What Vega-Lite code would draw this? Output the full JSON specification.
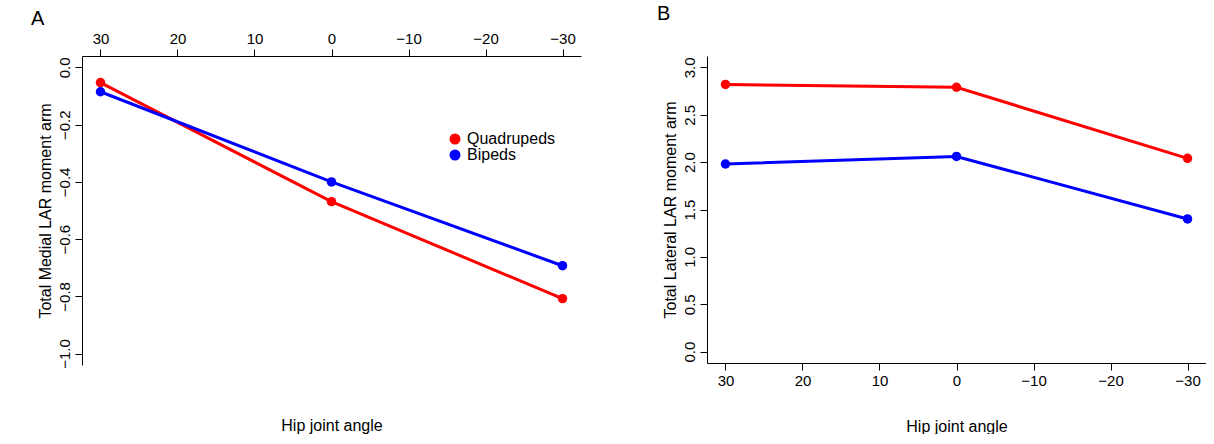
{
  "$schema": "https://vega.github.io/schema/vega-lite/v6.json",
  "padding": {"left": 30, "top": 4, "right": 0, "bottom": 0},
  "datasets": {
    "medial": [
      {"group": "Quadrupeds", "angle": 30, "value": -0.053},
      {"group": "Quadrupeds", "angle": 0, "value": -0.469},
      {"group": "Quadrupeds", "angle": -30, "value": -0.808},
      {"group": "Bipeds", "angle": 30, "value": -0.085},
      {"group": "Bipeds", "angle": 0, "value": -0.4},
      {"group": "Bipeds", "angle": -30, "value": -0.693}
    ],
    "lateral": [
      {"group": "Quadrupeds", "angle": 30, "value": 2.82},
      {"group": "Quadrupeds", "angle": 0, "value": 2.79},
      {"group": "Quadrupeds", "angle": -30, "value": 2.04},
      {"group": "Bipeds", "angle": 30, "value": 1.98},
      {"group": "Bipeds", "angle": 0, "value": 2.06},
      {"group": "Bipeds", "angle": -30, "value": 1.4}
    ]
  },
  "config": {
    "font": "Liberation Sans",
    "view": {"stroke": null},
    "axis": {"grid": false, "labelFontSize": 15, "titleFontSize": 16, "titleFontWeight": "normal", "labelColor": "black", "titleColor": "black", "domainColor": "black", "tickColor": "black", "tickSize": 7, "labelPadding": 3},
    "legend": {"labelFontSize": 16, "symbolType": "circle", "symbolSize": 90, "rowPadding": 0, "labelLimit": 300},
    "title": {"fontSize": 20, "fontWeight": "normal", "anchor": "start", "frame": "bounds"}
  },
  "hconcat": [
    {
      "width": 499, "height": 309,
      "title": {"text": "A", "dx": -6, "offset": -22, "dy": -24},
      "data": {"name": "medial"},
      "resolve": {"axis": {"x": "independent"}},
      "layer": [
        {
          "mark": {"type": "line", "strokeWidth": 3},
          "encoding": {
            "x": {"field": "angle", "type": "quantitative", "scale": {"domain": [32.4, -32.4], "nice": false, "zero": false},
              "axis": {"orient": "top", "values": [30, 20, 10, 0, -10, -20, -30], "title": null}},
            "y": {"field": "value", "type": "quantitative", "scale": {"domain": [-1.04, 0.04], "nice": false},
              "axis": {"values": [0, -0.2, -0.4, -0.6, -0.8, -1], "format": ".1f", "labelAngle": -90, "labelAlign": "center", "labelBaseline": "bottom", "title": "Total Medial LAR moment arm", "titlePadding": 4}},
            "color": {"field": "group", "type": "nominal", "scale": {"domain": ["Quadrupeds", "Bipeds"], "range": ["#ff0000", "#0000ff"]},
              "legend": {"title": null, "orient": "none", "legendX": 365, "legendY": 75}}
          }
        },
        {
          "mark": {"type": "circle", "size": 90, "opacity": 1},
          "encoding": {
            "x": {"field": "angle", "type": "quantitative",
              "axis": {"orient": "bottom", "labels": false, "ticks": false, "domain": false, "title": "Hip joint angle", "titlePadding": 52}},
            "y": {"field": "value", "type": "quantitative"},
            "color": {"field": "group", "type": "nominal"}
          }
        }
      ]
    },
    {
      "width": 499, "height": 307,
      "title": {"text": "B", "dx": -5, "offset": 8, "dy": -24},
      "data": {"name": "lateral"},
      "layer": [
        {
          "mark": {"type": "line", "strokeWidth": 3},
          "encoding": {
            "x": {"field": "angle", "type": "quantitative", "scale": {"domain": [32.4, -32.4], "nice": false, "zero": false},
              "axis": {"values": [30, 20, 10, 0, -10, -20, -30], "title": "Hip joint angle", "titlePadding": 30}},
            "y": {"field": "value", "type": "quantitative", "scale": {"domain": [-0.12, 3.12], "nice": false},
              "axis": {"values": [0, 0.5, 1, 1.5, 2, 2.5, 3], "format": ".1f", "labelAngle": -90, "labelAlign": "center", "labelBaseline": "bottom", "title": "Total Lateral LAR moment arm", "titlePadding": 4}},
            "color": {"field": "group", "type": "nominal", "scale": {"domain": ["Quadrupeds", "Bipeds"], "range": ["#ff0000", "#0000ff"]},
              "legend": {"title": null, "orient": "none", "legendX": 370, "legendY": 215}}
          }
        },
        {
          "mark": {"type": "circle", "size": 90, "opacity": 1},
          "encoding": {
            "x": {"field": "angle", "type": "quantitative"},
            "y": {"field": "value", "type": "quantitative"},
            "color": {"field": "group", "type": "nominal"}
          }
        }
      ]
    }
  ],
  "spacing": 75
}
